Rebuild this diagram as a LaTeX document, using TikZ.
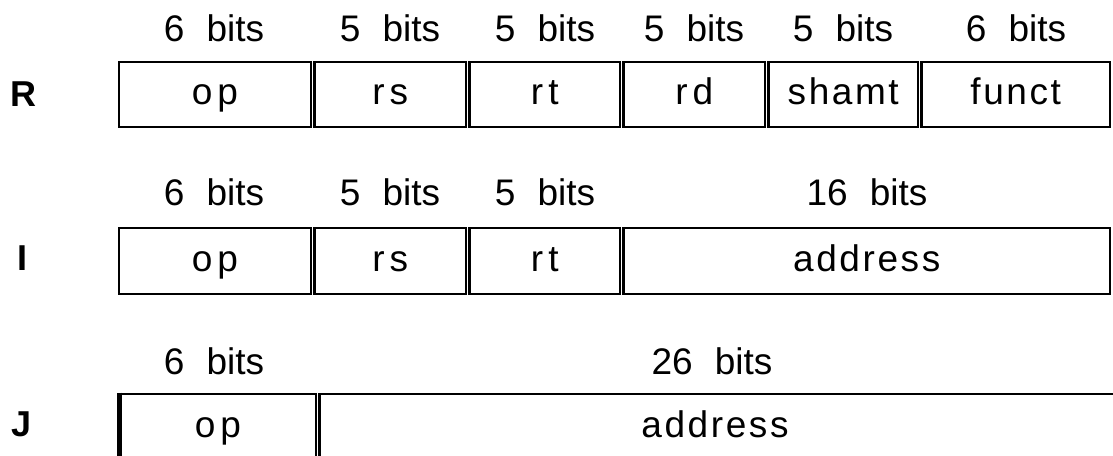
\documentclass[tikz,border=0pt]{standalone}
\usepackage{fontspec}
\setmainfont{Liberation Sans}
\newfontfamily\fieldfont[LetterSpace=7]{Liberation Sans}
\begin{document}
\begin{tikzpicture}[x=1pt,y=-1pt,
  field/.style={draw, line width=2.2pt, inner sep=0pt, text height=25pt, text depth=5pt, font=\fieldfont\fontsize{37}{42}\selectfont},
  bitlbl/.style={inner sep=0pt, text height=25pt, text depth=5pt, font=\fontsize{37}{42}\selectfont},
  rowlbl/.style={inner sep=0pt, font=\bfseries\fontsize{36}{42}\selectfont}]
\useasboundingbox (0,0) rectangle (1113,455);
\newcommand{\fld}[6]{\node[field, minimum width={#3-#2}, minimum height=#5] (#1) at ({(#2+#3)/2},#4) {#6};}
\newcommand{\spacedpair}[2]{#1\kern5pt #2}
% Row R
\node[rowlbl] (lR) at (23.5,94) {R};
\fld{Rop}{119}{311}{94.5}{65}{\spacedpair{o}{p}}
\fld{Rrs}{314.5}{466}{94.5}{65}{\spacedpair{r}{s}}
\fld{Rrt}{469.5}{620}{94.5}{65}{\spacedpair{r}{t}}
\fld{Rrd}{623.5}{765}{94.5}{65}{\spacedpair{r}{d}}
\fld{Rsh}{768.5}{918}{94.5}{65}{shamt}
\fld{Rfn}{921.5}{1110}{94.5}{65}{funct}
\node[bitlbl] (bRop) at (214,31) {6\hspace{0.6em}bits};
\node[bitlbl] (bRrs) at (390,31) {5\hspace{0.6em}bits};
\node[bitlbl] (bRrt) at (545,31) {5\hspace{0.6em}bits};
\node[bitlbl] (bRrd) at (694,31) {5\hspace{0.6em}bits};
\node[bitlbl] (bRsh) at (843,31) {5\hspace{0.6em}bits};
\node[bitlbl] (bRfn) at (1016,31) {6\hspace{0.6em}bits};
% Row I
\node[rowlbl] (lI) at (22.5,258) {I};
\fld{Iop}{119}{311}{261}{66}{\spacedpair{o}{p}}
\fld{Irs}{314.5}{466}{261}{66}{\spacedpair{r}{s}}
\fld{Irt}{469.5}{620}{261}{66}{\spacedpair{r}{t}}
\fld{Iad}{623.5}{1110}{261}{66}{address}
\node[bitlbl] (bIop) at (214,195) {6\hspace{0.6em}bits};
\node[bitlbl] (bIrs) at (390,195) {5\hspace{0.6em}bits};
\node[bitlbl] (bIrt) at (545,195) {5\hspace{0.6em}bits};
\node[bitlbl] (bIad) at (867,195) {16\hspace{0.6em}bits};
% Row J
\node[rowlbl] (lJ) at (22,424) {J};
\begin{scope}[field/.append style={line width=2.6pt}]
\fld{Jop}{120}{316}{427}{66}{\spacedpair{o}{p}}
\fld{Jad}{319.5}{1116}{427}{66}{}
\end{scope}
\draw[line width=4.5pt] ([xshift=1pt]Jop.north west) -- ([xshift=1pt]Jop.south west);
\node[inner sep=0pt, text height=25pt, text depth=5pt, font=\fieldfont\fontsize{37}{42}\selectfont] (Jadt) at (715,427) {address};
\node[bitlbl] (bJop) at (214,364) {6\hspace{0.6em}bits};
\node[bitlbl] (bJad) at (712,364) {26\hspace{0.6em}bits};
\end{tikzpicture}
\end{document}
